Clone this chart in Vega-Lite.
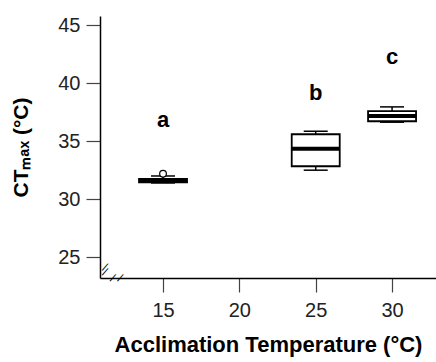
{
  "$schema": "https://vega.github.io/schema/vega-lite/v6.json",
  "width": 336,
  "height": 262,
  "autosize": "none",
  "padding": {"left": 100, "top": 16, "right": 0, "bottom": 84},
  "background": "white",
  "config": {
    "font": "Liberation Sans",
    "view": {"stroke": null},
    "axis": {
      "grid": false,
      "domainColor": "black",
      "domainWidth": 1.5,
      "tickColor": "#444",
      "tickWidth": 1.2,
      "tickSize": 14,
      "labelFontSize": 20,
      "labelColor": "#222",
      "titleFontSize": 21,
      "titleFontWeight": "bold",
      "titleColor": "black",
      "labelFont": "Liberation Sans",
      "titleFont": "Liberation Sans"
    }
  },
  "datasets": {
    "boxes": [
      {"temp": 15, "lo": 31.4, "q1": 31.45, "med": 31.6, "q3": 31.75, "hi": 32.0, "label": "a", "labelY": 36.23},
      {"temp": 25, "lo": 32.5, "q1": 32.84, "med": 34.34, "q3": 35.6, "hi": 35.86, "label": "b", "labelY": 38.53},
      {"temp": 30, "lo": 36.64, "q1": 36.72, "med": 37.18, "q3": 37.59, "hi": 37.96, "label": "c", "labelY": 41.7}
    ],
    "outliers": [
      {"temp": 15, "value": 32.2}
    ],
    "breaks": [
      {"bx": 11.2, "by": 23.72},
      {"bx": 11.2, "by": 24.12},
      {"bx": 11.7, "by": 23.2},
      {"bx": 12.2, "by": 23.2}
    ]
  },
  "data": {"name": "boxes"},
  "layer": [
    {
      "mark": {"type": "rule", "color": "black", "strokeWidth": 1.5},
      "encoding": {
        "x": {"field": "temp", "type": "quantitative", "scale": {"domain": [11.2, 32.55], "nice": false, "zero": false},
          "axis": {"values": [15, 20, 25, 30], "title": "Acclimation Temperature (°C)", "titleFontSize": 22, "labelPadding": 8, "titlePadding": 14}},
        "y": {"field": "lo", "type": "quantitative", "scale": {"domain": [23.2, 45.8], "nice": false, "zero": false},
          "axis": {"values": [25, 30, 35, 40, 45], "title": "CTₘₐₓ (°C)", "labelPadding": 6, "titlePadding": 26}},
        "y2": {"field": "hi"}
      }
    },
    {
      "mark": {"type": "bar", "size": 48, "fill": "white", "stroke": "black", "strokeWidth": 1.8},
      "encoding": {
        "x": {"field": "temp", "type": "quantitative"},
        "y": {"field": "q1", "type": "quantitative"},
        "y2": {"field": "q3"}
      }
    },
    {
      "mark": {"type": "tick", "orient": "horizontal", "size": 48, "thickness": 4, "color": "black", "opacity": 1},
      "encoding": {
        "x": {"field": "temp", "type": "quantitative"},
        "y": {"field": "med", "type": "quantitative"}
      }
    },
    {
      "mark": {"type": "tick", "orient": "horizontal", "size": 24, "thickness": 1.5, "color": "black", "opacity": 1},
      "encoding": {
        "x": {"field": "temp", "type": "quantitative"},
        "y": {"field": "hi", "type": "quantitative"}
      }
    },
    {
      "mark": {"type": "tick", "orient": "horizontal", "size": 24, "thickness": 1.5, "color": "black", "opacity": 1},
      "encoding": {
        "x": {"field": "temp", "type": "quantitative"},
        "y": {"field": "lo", "type": "quantitative"}
      }
    },
    {
      "data": {"name": "outliers"},
      "mark": {"type": "point", "shape": "circle", "size": 45, "fill": "white", "stroke": "black", "strokeWidth": 1.2, "filled": false, "opacity": 1},
      "encoding": {
        "x": {"field": "temp", "type": "quantitative"},
        "y": {"field": "value", "type": "quantitative"}
      }
    },
    {
      "mark": {"type": "text", "fontSize": 22, "fontWeight": "bold", "baseline": "alphabetic", "align": "center", "color": "black"},
      "encoding": {
        "x": {"field": "temp", "type": "quantitative"},
        "y": {"field": "labelY", "type": "quantitative"},
        "text": {"field": "label"}
      }
    },
    {
      "data": {"name": "breaks"},
      "mark": {"type": "text", "fontSize": 12, "baseline": "middle", "align": "center", "color": "black", "angle": 25, "text": "/"},
      "encoding": {
        "x": {"field": "bx", "type": "quantitative"},
        "y": {"field": "by", "type": "quantitative"}
      }
    }
  ]
}
